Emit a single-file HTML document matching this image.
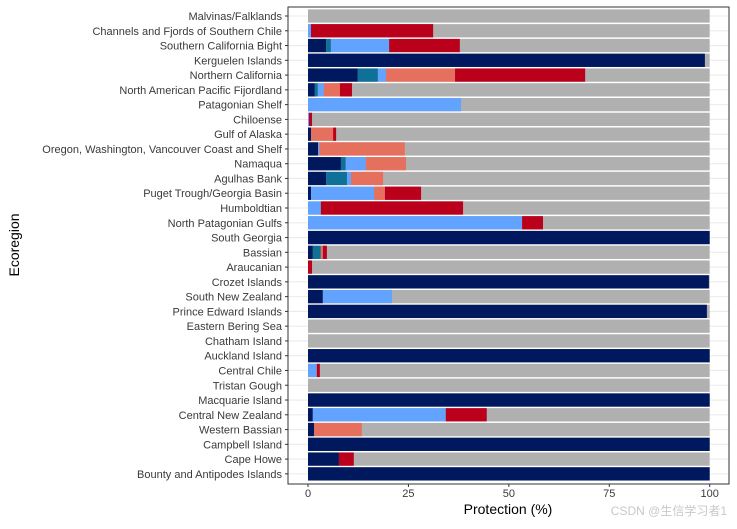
<!DOCTYPE html>
<html><head><meta charset="utf-8"><style>
body{margin:0;background:#fff;}
svg text{font-family:"Liberation Sans","Noto Sans CJK SC",sans-serif;}
</style></head><body>
<svg id="chart" width="737" height="524" xmlns="http://www.w3.org/2000/svg">
<rect x="288" y="7" width="441" height="477" fill="#fff"/>
<g id="grid"></g><g id="bars"></g>
<rect x="288" y="7" width="441" height="477" fill="none" stroke="#333" stroke-width="1"/>
<g id="ylabels"></g><g id="xaxis"></g>
<text x="508" y="514" font-size="14" text-anchor="middle" fill="#000">Protection (%)</text>
<text transform="translate(19,245) rotate(-90)" font-size="14" text-anchor="middle" fill="#000">Ecoregion</text>
<text x="727" y="515" font-size="12" text-anchor="end" fill="#c8c8c8">CSDN @生信学习者1</text>
</svg>
<script>
const categories=["Malvinas/Falklands","Channels and Fjords of Southern Chile","Southern California Bight","Kerguelen Islands","Northern California","North American Pacific Fijordland","Patagonian Shelf","Chiloense","Gulf of Alaska","Oregon, Washington, Vancouver Coast and Shelf","Namaqua","Agulhas Bank","Puget Trough/Georgia Basin","Humboldtian","North Patagonian Gulfs","South Georgia","Bassian","Araucanian","Crozet Islands","South New Zealand","Prince Edward Islands","Eastern Bering Sea","Chatham Island","Auckland Island","Central Chile","Tristan Gough","Macquarie Island","Central New Zealand","Western Bassian","Campbell Island","Cape Howe","Bounty and Antipodes Islands"];
const navy=[0,0,4.5,98.8,12.4,1.7,0,0,0.75,2.5,8.2,4.5,0.75,0,0,100,1.2,0,99.8,3.7,99.3,0,0,100,0,0,100,1.2,1.5,100,7.7,100];
const teal=[0,0,1.2,0,5.0,0.75,0,0,0,0,1.2,5.2,0,0,0,0,2.0,0,0,0,0,0,0,0,0,0,0,0,0,0,0,0];
const blue=[0,0.75,14.5,0,2.0,1.5,38.1,0.25,0,0.3,5.0,1.0,15.7,3.2,53.3,0,0,0,0,17.2,0,0,0,0,2.2,0,0,33.1,0,0,0,0];
const salmon=[0,0,0,0,17.2,4.0,0,0,5.5,21.3,10.0,8.0,2.7,0,0,0,0.5,0,0,0,0,0,0,0,0,0,0,0,11.9,0,0,0];
const red=[0,30.4,17.6,0,32.4,3.0,0,0.75,0.75,0,0,0,9.0,35.4,5.2,0,1.0,1.0,0,0,0,0,0,0,0.75,0,0,10.2,0,0,3.7,0];
const xTicks=[0,25,50,75,100];
const series=[["navy",navy,"#00185e"],["teal",teal,"#0f7098"],["blue",blue,"#62a3ff"],["salmon",salmon,"#e6705e"],["red",red,"#bb001c"]];
const NS="http://www.w3.org/2000/svg";
const X=v=>308+v*4.017;
const Y=i=>16+i*14.77;
const bh=13.3;
function mk(tag,attrs,parent,txt){const e=document.createElementNS(NS,tag);for(const k in attrs)e.setAttribute(k,attrs[k]);if(txt!==undefined)e.textContent=txt;document.getElementById(parent).appendChild(e);return e;}
categories.forEach((c,i)=>{
  const g=mk("line",{x1:288,x2:729,y1:Y(i),y2:Y(i),stroke:"#ebebeb","stroke-width":1.1},"grid");
  
  
  const bg=mk("rect",{x:X(0),y:Y(i)-bh/2,width:X(100)-X(0),height:bh,fill:"#b0b0b0"},"bars");
  
  
  let acc=0;
  series.forEach(s=>{const v=s[1][i];if(v>0){const r=mk("rect",{x:X(acc),y:Y(i)-bh/2,width:X(acc+v)-X(acc),height:bh,fill:s[2]},"bars");
    
    }acc+=v;});
  const t=mk("text",{x:282,y:Y(i)+4,"font-size":11,"text-anchor":"end",fill:"#3a3a3a"},"ylabels",c);
  
  
  const tk=mk("line",{x1:285,x2:288,y1:Y(i),y2:Y(i),stroke:"#333"},"ylabels");
  
  
});
xTicks.forEach(v=>{
  const l=mk("line",{x1:X(v),x2:X(v),y1:484,y2:487,stroke:"#333"},"xaxis");
  
  
  const t=mk("text",{x:X(v),y:497,"font-size":11,"text-anchor":"middle",fill:"#3a3a3a"},"xaxis",v);
  
  
});
</script>
</body></html>
